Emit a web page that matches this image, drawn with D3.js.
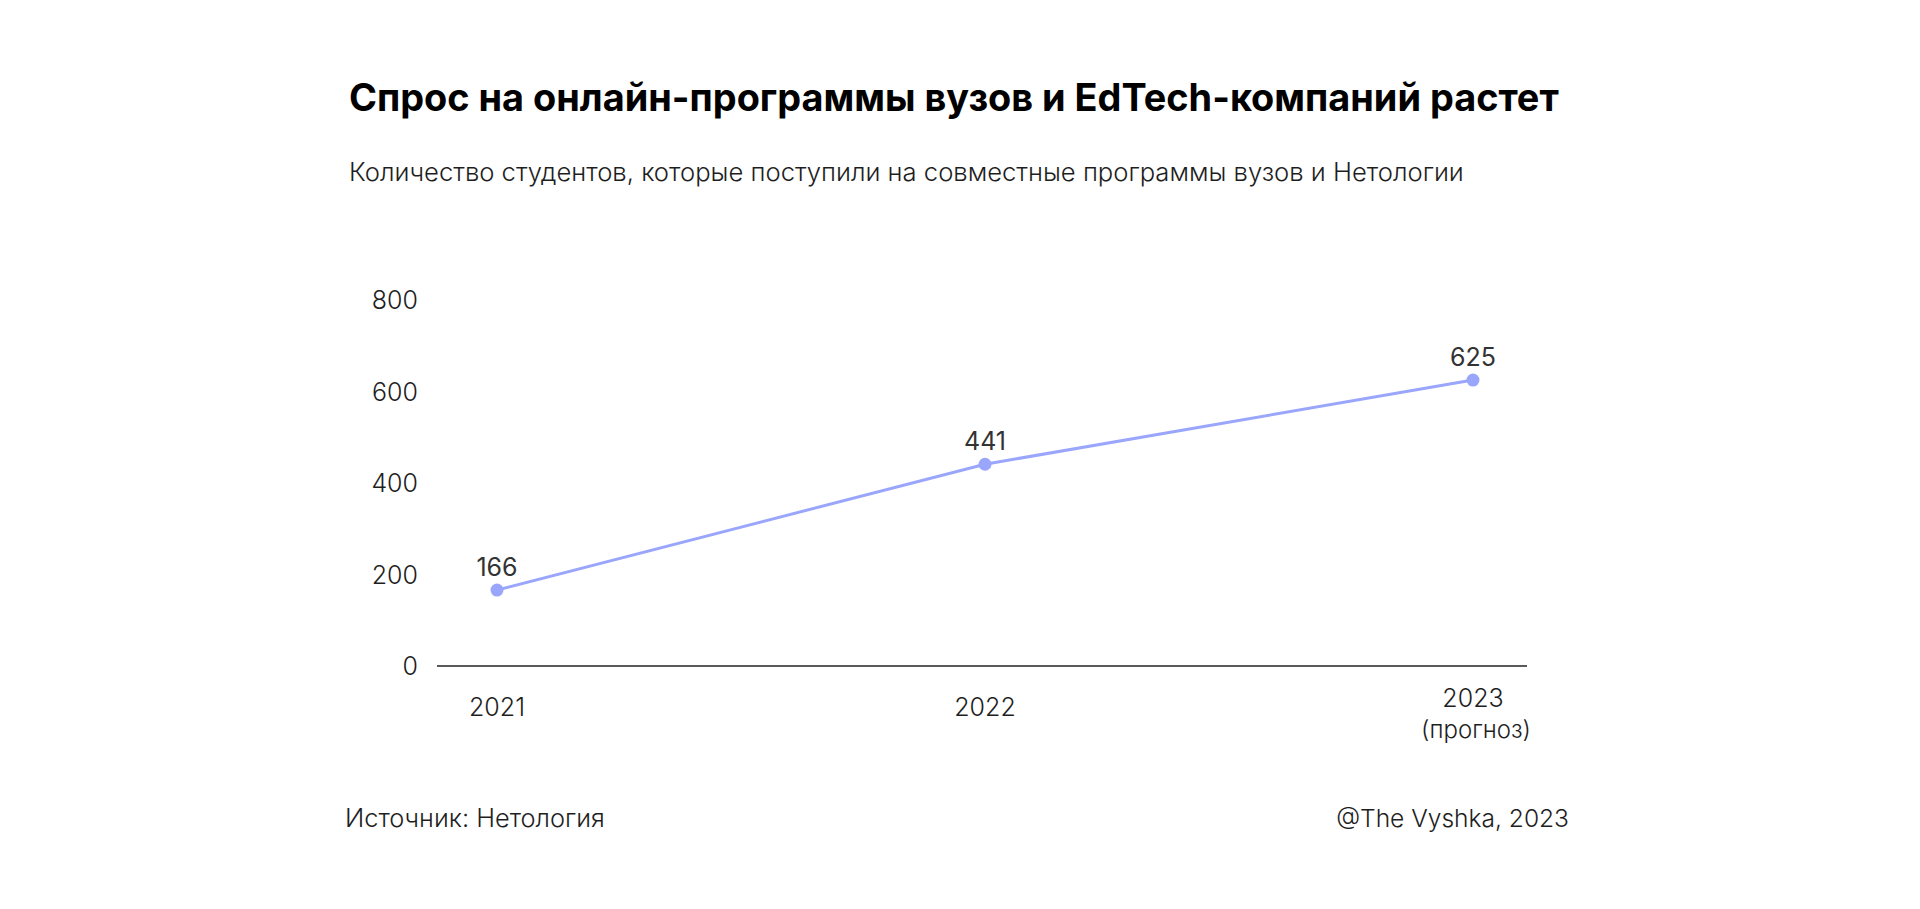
<!DOCTYPE html>
<html>
<head>
<meta charset="utf-8">
<script src="https://cdn.jsdelivr.net/npm/d3@7"></script>
<style>
  body { margin: 0; background: #fff; }
  text { font-family: Inter, "Noto Sans", sans-serif; }
</style>
</head>
<body>
<svg id="chart" width="1920" height="909"></svg>
<script>
const years = ["2021", "2022", "2023"];
const yearNotes = ["", "", "(прогноз)"];
const students = [166, 441, 625];
const yTicks = [0, 200, 400, 600, 800];

const titleText = "Спрос на онлайн-программы вузов и EdTech-компаний растет";
const subtitleText = "Количество студентов, которые поступили на совместные программы вузов и Нетологии";
const sourceText = "Источник: Нетология";
const creditText = "@The Vyshka, 2023";

const svg = d3.select("#chart");
const lineColor = "#9aa6fb";
const textColor = "#1e1e1e";

// fit a text element to a target width by adjusting font size
function fitWidth(sel, target) {
  const w = sel.node().getComputedTextLength();
  const fs = parseFloat(sel.attr("font-size"));
  sel.attr("font-size", (fs * target) / w);
}

const title = svg
  .append("text")
  .attr("x", 349)
  .attr("y", 111)
  .attr("font-size", 37)
  .attr("font-weight", 700)
  .attr("fill", "#000")
  .text(titleText);
fitWidth(title, 1210);

const subtitle = svg
  .append("text")
  .attr("x", 349)
  .attr("y", 181)
  .attr("font-size", 26)
  .attr("font-family", "Roboto")
  .attr("font-weight", 300)
  .attr("fill", textColor)
  .text(subtitleText);
fitWidth(subtitle, 1115);

const x = d3
  .scalePoint()
  .domain(years)
  .range([497, 1473]);

const y = d3
  .scaleLinear()
  .domain([0, 800])
  .range([666, 300]);

// y labels, no axis line
svg
  .append("g")
  .selectAll("text.ytick")
  .data(yTicks)
  .join("text")
  .attr("class", "ytick")
  .attr("x", 418)
  .attr("y", (d) => y(d))
  .attr("dy", "0.36em")
  .attr("text-anchor", "end")
  .attr("font-size", 25)
  .attr("font-weight", 300)
  .attr("fill", textColor)
  .text((d) => d);

// baseline
svg
  .append("line")
  .attr("x1", 437)
  .attr("x2", 1527)
  .attr("y1", y(0))
  .attr("y2", y(0))
  .attr("stroke", "#222")
  .attr("stroke-width", 1.5);

// x labels
const xl = svg
  .append("g")
  .selectAll("g.xtick")
  .data(years.map((d, i) => ({ year: d, note: yearNotes[i] })))
  .join("g")
  .attr("class", "xtick")
  .attr("transform", (d) => `translate(${x(d.year)},0)`);

xl.append("text")
  .attr("y", (d) => (d.note ? 707 : 716))
  .attr("text-anchor", "middle")
  .attr("font-size", 25)
  .attr("font-weight", 300)
  .attr("fill", textColor)
  .text((d) => d.year);

xl.append("text")
  .attr("x", 3)
  .attr("y", 738)
  .attr("text-anchor", "middle")
  .attr("font-size", 24)
  .attr("font-weight", 300)
  .attr("fill", textColor)
  .text((d) => d.note);

const pts = years.map((d, i) => ({ year: d, value: students[i] }));

const lineGen = d3
  .line()
  .x((d) => x(d.year))
  .y((d) => y(d.value));

svg
  .append("path")
  .datum(pts)
  .attr("d", lineGen)
  .attr("fill", "none")
  .attr("stroke", lineColor)
  .attr("stroke-width", 3);

svg
  .selectAll("circle.pt")
  .data(pts)
  .join("circle")
  .attr("class", "pt")
  .attr("cx", (d) => x(d.year))
  .attr("cy", (d) => y(d.value))
  .attr("r", 6.5)
  .attr("fill", lineColor);

svg
  .selectAll("text.val")
  .data(pts)
  .join("text")
  .attr("class", "val")
  .attr("x", (d) => x(d.year))
  .attr("y", (d) => y(d.value) - 14)
  .attr("text-anchor", "middle")
  .attr("font-family", "Roboto")
  .attr("font-size", 25)
  .attr("fill", "#333")
  .text((d) => d.value);

const src = svg
  .append("text")
  .attr("x", 345)
  .attr("y", 827)
  .attr("font-size", 24)
  .attr("font-weight", 300)
  .attr("fill", textColor)
  .text(sourceText);
fitWidth(src, 260);

const credit = svg
  .append("text")
  .attr("x", 1569)
  .attr("y", 827)
  .attr("text-anchor", "end")
  .attr("font-size", 24)
  .attr("font-weight", 300)
  .attr("fill", textColor)
  .text(creditText);
fitWidth(credit, 233);
</script>
</body>
</html>
